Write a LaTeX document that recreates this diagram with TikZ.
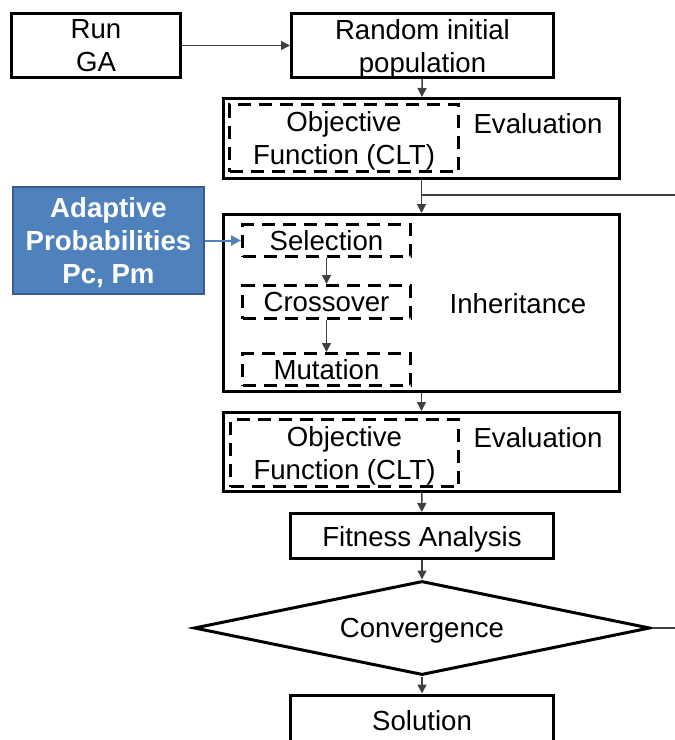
\documentclass[tikz,border=0pt]{standalone}
\usepackage{fontspec}
\setmainfont{Liberation Sans}
\usetikzlibrary{arrows.meta,shapes.geometric}
\definecolor{blu}{HTML}{4F81BD}
\definecolor{bluD}{HTML}{385D8A}
\definecolor{arr}{HTML}{404040}
\begin{document}
\begin{tikzpicture}[x=1pt,y=1pt,
  every node/.style={font=\fontsize{27.6}{33}\selectfont, inner sep=0pt, align=center, text depth=0pt},
  box/.style n args={2}{draw=black, line width=3pt, rectangle, minimum width=#1, minimum height=#2},
  dbox/.style n args={2}{draw=black, line width=3pt, dash pattern=on 13pt off 8pt, rectangle, minimum width=#1, minimum height=#2},
  conn/.style={draw=arr, line width=1.5pt, -{Triangle[length=9pt,width=9pt]}},
  line/.style={draw=arr, line width=1.5pt},
  bconn/.style={draw=blu, line width=2pt, -{Triangle[length=10pt,width=10pt]}}
]
\useasboundingbox (0,0) rectangle (675,-740);

\node[box={169}{64}] (run) at (96,-45.5) {Run\\GA};
\node[box={262}{64}] (rand) at (422.5,-45.5) {Random initial\\population};

\node[box={396}{80}] (ev1) at (421.5,-138.5) {};
\node[dbox={229}{67}] (obj1) at (344,-138) {Objective\\Function (CLT)};
\node (ev1t) at (538,-123) {Evaluation};

\node[box={396}{177}] (inh) at (421.5,-303) {};
\node[dbox={168}{32}] (sel) at (326.5,-240.5) {Selection};
\node[dbox={168}{33}] (cro) at (326.5,-302) {Crossover};
\node[dbox={168}{32}] (mut) at (326.5,-369.5) {Mutation};
\node (inht) at (518,-303) {Inheritance};

\node[draw=bluD, fill=blu, line width=2.5pt, minimum width=191, minimum height=107,
      text=white, font=\fontsize{27.6}{33}\selectfont\bfseries] (adapt) at (108.5,-240.5)
      {Adaptive\\Probabilities\\Pc, Pm};

\node[box={396}{79}] (ev2) at (421.5,-452) {};
\node[dbox={228}{67}] (obj2) at (344.5,-453) {Objective\\Function (CLT)};
\node (ev2t) at (538,-437) {Evaluation};

\node[box={263}{45}] (fit) at (422,-536) {Fitness Analysis};
\node[draw=black, line width=3pt, diamond, minimum width=456, minimum height=94,
      shape aspect=4.85] (conv) at (422,-628) {Convergence};
\node[box={263}{50}] (sol) at (422,-720) {Solution};

\coordinate (br) at (422,-195);
\coordinate (fbT) at (675,-195);
\coordinate (fbR) at (675,-628);

\draw[conn] (run) -- (rand);
\draw[conn] (rand) -- (ev1);
\draw[conn] (ev1) -- (inh);
\draw[line] (br) -- (fbT);
\draw[bconn] (adapt.east |- sel.west) -- (sel.west);
\draw[conn] (sel) -- (cro);
\draw[conn] (cro) -- (mut);
\draw[conn] (inh) -- (ev2);
\draw[conn] (ev2) -- (fit);
\draw[conn] (fit) -- (conv);
\draw[conn] (conv) -- (sol);
\draw[line] (conv.east) -- (fbR);
\end{tikzpicture}
\end{document}
